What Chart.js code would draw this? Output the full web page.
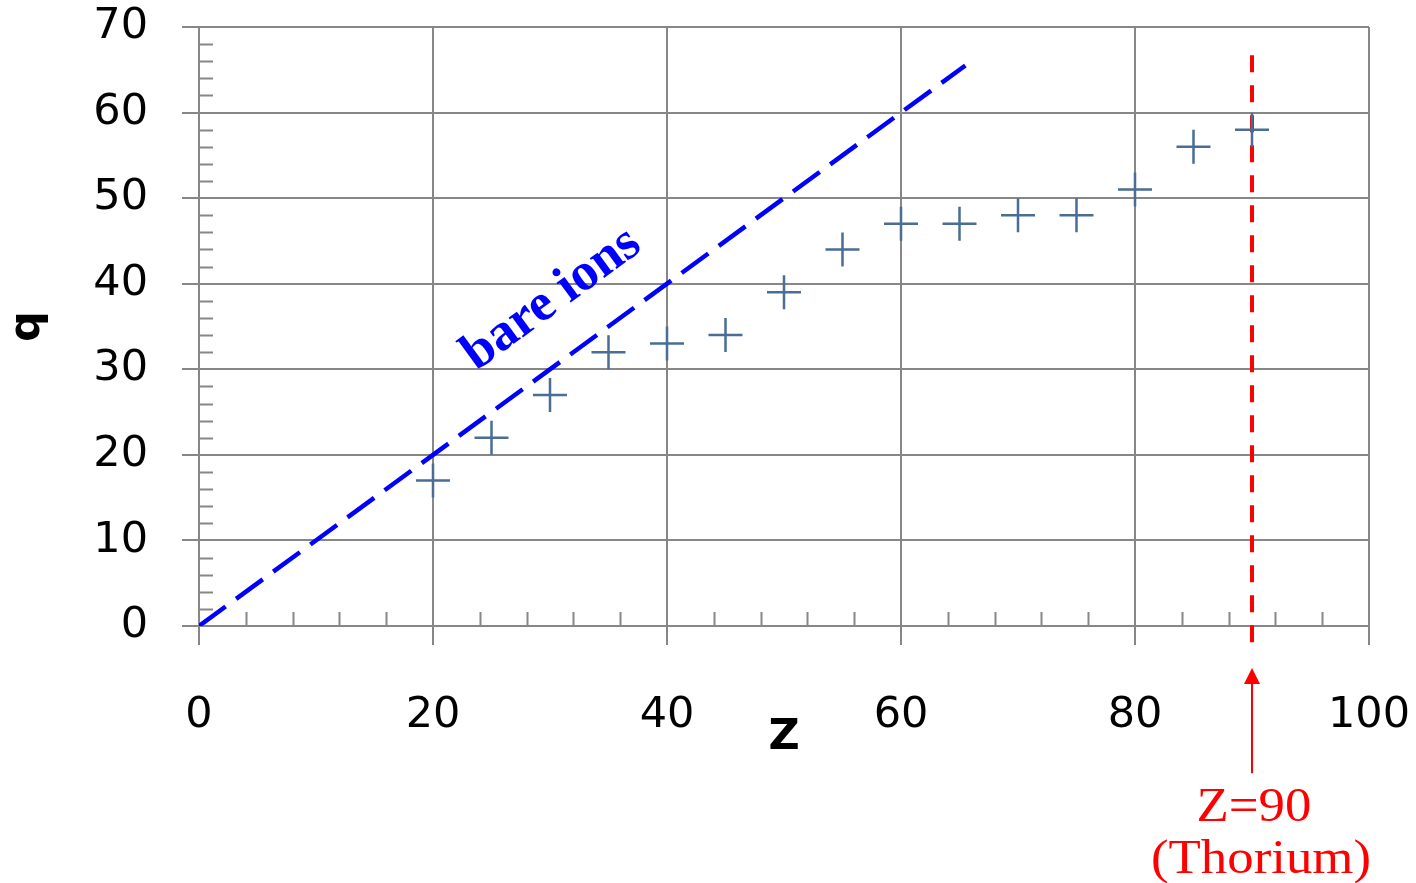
<!DOCTYPE html>
<html>
<head>
<meta charset="utf-8">
<script src="https://cdn.jsdelivr.net/npm/chart.js@4/dist/chart.umd.min.js"></script>
<style>
  html, body { margin: 0; padding: 0; background: #fff; }
  #wrap { width: 1416px; height: 883px; }
</style>
</head>
<body>
<div id="wrap"><canvas id="qChart"></canvas></div>
<script>
// charge state q reached for each element Z
var zValues = [20, 25, 30, 35, 40, 45, 50, 55, 60, 65, 70, 75, 80, 85, 90];
var qValues = [17, 22, 27, 32, 33, 34, 39, 44, 47, 47, 48, 48, 51, 56, 58];

// q = Z for fully stripped ions
var bareZ = [0, 65.5];
var bareQ = [0, 65.5];

// vertical marker at thorium
var thoriumZ = [90, 90];
var thoriumQ = [66.7, -3.2];

var xTicks = [0, 20, 40, 60, 80, 100];
var yTicks = [0, 10, 20, 30, 40, 50, 60, 70];

var gridColor = '#878787';
var tickFont = { family: 'DejaVu Sans', size: 43 };

function toPoints(xs, ys) {
    return xs.map(function (x, i) { return { x: x, y: ys[i] }; });
}

// small inner ticks between the major gridlines
var minorTicks = {
    id: 'minorTicks',
    beforeDatasetsDraw: function (chart) {
        var xs = chart.scales.x, ys = chart.scales.y, ctx = chart.ctx;
        ctx.save();
        ctx.strokeStyle = gridColor;
        ctx.lineWidth = 2;
        ctx.beginPath();
        for (var v = 2; v < yTicks[yTicks.length - 1]; v += 2) {
            if (v % 10 === 0) continue;
            var py = Math.round(ys.getPixelForValue(v)) + 0.5;
            ctx.moveTo(xs.left, py);
            ctx.lineTo(xs.left + 14, py);
        }
        for (var u = 4; u < xTicks[xTicks.length - 1]; u += 4) {
            if (u % 20 === 0) continue;
            var px = Math.round(xs.getPixelForValue(u)) + 0.5;
            ctx.moveTo(px, ys.bottom);
            ctx.lineTo(px, ys.bottom - 14);
        }
        ctx.stroke();
        ctx.restore();
    }
};

// "bare ions" label along the line, plus the thorium arrow and caption
var notes = {
    id: 'notes',
    afterDatasetsDraw: function (chart) {
        var xs = chart.scales.x, ys = chart.scales.y, ctx = chart.ctx;
        ctx.save();

        var angle = Math.atan2(ys.getPixelForValue(bareQ[1]) - ys.getPixelForValue(bareQ[0]),
                               xs.getPixelForValue(bareZ[1]) - xs.getPixelForValue(bareZ[0]));
        ctx.save();
        ctx.translate(xs.getPixelForValue(30.85), ys.getPixelForValue(36.9));
        ctx.rotate(angle);
        ctx.fillStyle = '#0000ff';
        ctx.font = 'bold 53px "Liberation Serif"';
        ctx.textAlign = 'center';
        ctx.textBaseline = 'alphabetic';
        ctx.fillText('bare ions', 0, 0);
        ctx.restore();

        var ax = xs.getPixelForValue(thoriumZ[0]);
        var tip = ys.getPixelForValue(-4.9);
        var tail = ys.getPixelForValue(-17.2);
        ctx.strokeStyle = '#ff0000';
        ctx.fillStyle = '#ff0000';
        ctx.lineWidth = 2;
        ctx.beginPath();
        ctx.moveTo(ax, tail);
        ctx.lineTo(ax, tip + 14);
        ctx.stroke();
        ctx.beginPath();
        ctx.moveTo(ax, tip);
        ctx.lineTo(ax - 8, tip + 16);
        ctx.lineTo(ax + 8, tip + 16);
        ctx.closePath();
        ctx.fill();

        ctx.font = '48px "Liberation Serif"';
        ctx.textAlign = 'center';
        ctx.textBaseline = 'alphabetic';
        ctx.save();
        ctx.translate(ax + 2, ys.getPixelForValue(-22.8));
        ctx.scale(1.1, 1);
        ctx.fillText('Z=90', 0, 0);
        ctx.restore();
        ctx.save();
        ctx.translate(ax + 9, ys.getPixelForValue(-28.9));
        ctx.scale(1.1, 1);
        ctx.fillText('(Thorium)', 0, 0);
        ctx.restore();

        ctx.restore();
    }
};

var ctx = document.getElementById('qChart').getContext('2d');
var chart = new Chart(ctx, {
    type: 'scatter',
    data: {
        datasets: [{
            label: 'q',
            data: toPoints(zValues, qValues),
            pointStyle: 'cross',
            pointRadius: 17,
            pointBorderWidth: 2.5,
            borderColor: '#4a6d95',
            backgroundColor: '#4a6d95',
            showLine: false
        }, {
            label: 'bare ions',
            data: toPoints(bareZ, bareQ),
            showLine: true,
            borderColor: '#0000ff',
            borderWidth: 4.5,
            borderDash: [33, 13],
            pointRadius: 0
        }, {
            label: 'Z=90',
            data: toPoints(thoriumZ, thoriumQ),
            showLine: true,
            borderColor: '#ff0000',
            borderWidth: 4,
            borderDash: [17, 13],
            pointRadius: 0,
            clip: false
        }]
    },
    options: {
        responsive: true,
        maintainAspectRatio: false,
        animation: false,
        layout: { padding: 0 },
        plugins: {
            legend: { display: false },
            tooltip: { enabled: false }
        },
        scales: {
            x: {
                type: 'linear',
                min: xTicks[0],
                max: xTicks[xTicks.length - 1],
                afterBuildTicks: function (scale) {
                    scale.ticks = xTicks.map(function (v) { return { value: v }; });
                },
                afterFit: function (scale) {
                    scale.height = 257;
                    scale.paddingLeft = 0;
                    scale.paddingRight = 47;
                },
                ticks: { font: tickFont, color: '#000', padding: 45, maxRotation: 0 },
                grid: { color: gridColor, lineWidth: 2, tickLength: 19 },
                border: { color: gridColor, width: 2 },
                title: {
                    display: true,
                    text: 'Z',
                    color: '#000',
                    font: { family: 'DejaVu Sans', size: 43, weight: 'bold' },
                    padding: { top: 0, bottom: 119 }
                }
            },
            y: {
                type: 'linear',
                min: yTicks[0],
                max: yTicks[yTicks.length - 1],
                afterBuildTicks: function (scale) {
                    scale.ticks = yTicks.map(function (v) { return { value: v }; });
                },
                afterFit: function (scale) {
                    scale.width = 199;
                    scale.paddingTop = 27;
                    scale.paddingBottom = 0;
                },
                ticks: { font: tickFont, color: '#000', padding: 34 },
                grid: { color: gridColor, lineWidth: 2, tickLength: 17 },
                border: { color: gridColor, width: 2 },
                title: {
                    display: true,
                    text: 'q',
                    color: '#000',
                    font: { family: 'DejaVu Sans', size: 43, weight: 'bold' },
                    padding: { top: 2, bottom: 0 }
                }
            }
        }
    },
    plugins: [minorTicks, notes]
});
</script>
</body>
</html>
